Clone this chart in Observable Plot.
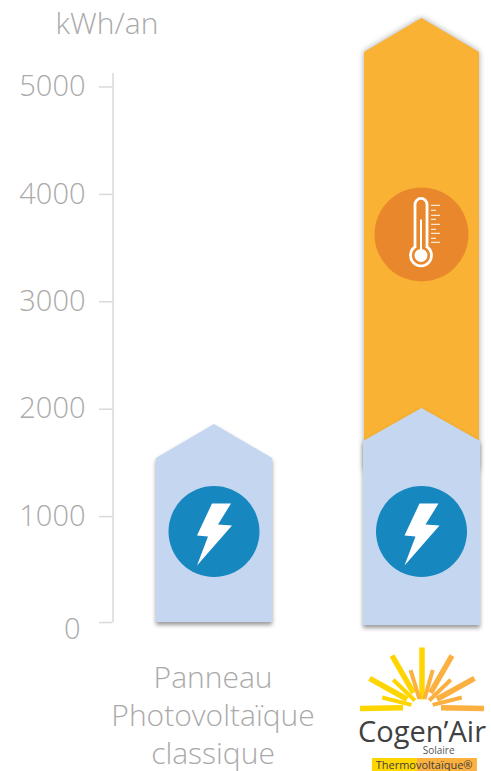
<!DOCTYPE html>
<html><head><meta charset="utf-8">
<script src="https://cdn.jsdelivr.net/npm/d3@7"></script>
<script src="https://cdn.jsdelivr.net/npm/@observablehq/plot@0.6"></script>
<style>
html,body{margin:0;padding:0;background:#fff}
svg{display:block}
.orange-house{filter:drop-shadow(0 0 3px rgba(0,0,0,.35))}
.blue-house{filter:drop-shadow(0 3px 2px rgba(0,0,0,.4))}
</style></head><body>
<script>
const categories = ["Panneau\nPhotovoltaïque\nclassique", "Cogen’Air"];
const unitLabel = "kWh/an";
const yTicks = [1000, 2000, 3000, 4000, 5000];

// [category index, base, shoulder, peak, half width]
const thermalHouse = [1, 1415, 5307, 5624, 0.277];
const electricPanel = [0, 0, 1527, 1844, 0.28];
const electricCogen = [1, -28, 1685, 1993, 0.282];

const houseColorThermal = "#f9b233";
const houseColorElectric = "#c5d7f0";
const iconBlue = "#1787c0";
const iconOrange = "#e8872b";
const grey = "#aaaaaa";

const electricIconY = 847;
const thermalIconY = 3613;

// logo rays: angle, inner, outer, colour
const rayAngles = [0, -30, 30, -61, 61, -91, 91, -17, 16, -46, 46, -76, 76];
const rayInner = [8, 17, 17, 17, 17, 19, 19, 9, 9, 10, 10, 11, 11];
const rayOuter = [60, 60, 60, 60, 60, 62, 62, 39, 39, 40, 40, 41, 41];
const rayColors = ["#ffd500", "#ffd500", "#fbb040", "#ffd500", "#fbb040", "#ffd500", "#fbb040", "#fbb040", "#fbb040", "#ffd500", "#fbb040", "#ffd500", "#fbb040"];
const rayWidths = [5.5, 5.5, 5.5, 5.5, 5.5, 5.5, 5.5, 4, 4, 4, 4, 4, 4];

const house = ([c, base, shoulder, peak, hw]) => [
  {x: c - hw, y1: base, y2: shoulder},
  {x: c, y1: base, y2: peak},
  {x: c + hw, y1: base, y2: shoulder}
];

const bolt = {draw(ctx) {
  ctx.moveTo(17, -28); ctx.lineTo(-2, -28); ctx.lineTo(-17, 4); ctx.lineTo(-6, 5);
  ctx.lineTo(-17, 34); ctx.lineTo(18, -6); ctx.lineTo(4, -7); ctx.closePath();
}};
const thermoOutline = {draw(ctx) {
  ctx.moveTo(-7, 12); ctx.lineTo(-7, -30);
  ctx.arc(-1, -30, 6, Math.PI, 0);
  ctx.lineTo(5, 12);
  ctx.arc(-1, 21, 10.5, -Math.PI / 2 + 0.6, -Math.PI / 2 - 0.6);
  ctx.closePath();
}};
const thermoFill = {draw(ctx) {
  ctx.moveTo(-2, -15); ctx.lineTo(0, -15); ctx.lineTo(0, 21); ctx.lineTo(-2, 21); ctx.closePath();
  ctx.moveTo(5.5, 21); ctx.arc(-1, 21, 6.5, 0, 2 * Math.PI);
}};
const thermoTicks = {draw(ctx) {
  [[-29, 18], [-24, 14], [-19, 18], [-15, 14], [-10, 18], [-5, 14], [-1, 18], [4, 14], [8, 18]].forEach(([y, x2]) => {
    ctx.moveTo(9, y); ctx.lineTo(x2, y);
  });
}};

const rays = rayAngles.map((angle, i) => ({angle, inner: rayInner[i], outer: rayOuter[i], color: rayColors[i], w: rayWidths[i]}));
const rayMarks = rays.map(r => Plot.vector([r], {
  x: () => 1.0, y: () => -791, rotate: r.angle, length: r.outer, anchor: "start",
  stroke: r.color, strokeWidth: r.w, strokeLinecap: "butt",
  shape: {draw(ctx, l) { ctx.moveTo(0, -r.inner); ctx.lineTo(0, -l); }}
}));

const font = "'Open Sans', sans-serif";
const chart = Plot.plot({
  width: 491, height: 771,
  marginTop: 0, marginRight: 0, marginBottom: 0, marginLeft: 0,
  style: {background: "#fff"},
  x: {domain: [-1.0313, 1.3349], range: [0, 491], axis: null},
  y: {domain: [5791, -1387], range: [0, 771], axis: null},
  marks: [
    Plot.ruleX([-0.489], {y1: 0, y2: 5112, stroke: "#d9d9d9", strokeWidth: 1.5}),
    Plot.axisY(yTicks, {anchor: "left", x: -0.489, tickSize: 13.5, tickPadding: 14, stroke: "#d9d9d9", strokeWidth: 1.5, fontSize: 29, fontWeight: 300, fontFamily: font, fill: grey, color: grey, label: null, tickFormat: "d", dy: 1.5}),
    Plot.ruleY([0], {x1: -0.554, x2: -0.489, stroke: "#d9d9d9", strokeWidth: 1.5}),
    Plot.text([0], {x: -0.489, y: 0, text: d => String(d), dy: 7, dx: -32.5, textAnchor: "end", fontSize: 29, fontWeight: 300, fontFamily: font, fill: grey}),
    Plot.text([unitLabel], {x: -0.766, y: 5568, text: d => d, fontSize: 30, fontWeight: 300, fontFamily: font, fill: grey, textAnchor: "start"}),

    Plot.areaY(house(thermalHouse), {x: "x", y1: "y1", y2: "y2", fill: houseColorThermal, className: "orange-house"}),
    Plot.areaY(house(electricPanel), {x: "x", y1: "y1", y2: "y2", fill: houseColorElectric, className: "blue-house"}),
    Plot.areaY(house(electricCogen), {x: "x", y1: "y1", y2: "y2", fill: houseColorElectric, className: "blue-house"}),

    Plot.dot([0, 1], {x: d => d, y: () => electricIconY, r: 45.5, fill: iconBlue, dx: -0.5}),
    Plot.dot([0, 1], {x: d => d, y: () => electricIconY, r: 30, fill: "#fff", symbol: bolt, dx: -0.5}),
    Plot.dot([1], {x: d => d, y: () => thermalIconY, r: 47, fill: iconOrange, dx: -0.5}),
    Plot.dot([1], {x: d => d, y: () => thermalIconY, r: 30, stroke: "#fff", strokeWidth: 2.8, fill: "none", symbol: thermoOutline}),
    Plot.dot([1], {x: d => d, y: () => thermalIconY, r: 30, fill: "#fff", symbol: thermoFill}),
    Plot.dot([1], {x: d => d, y: () => thermalIconY, r: 30, stroke: "#fff", strokeOpacity: 0.8, strokeWidth: 1.3, fill: "none", symbol: thermoTicks}),

    Plot.text([categories[0]], {x: () => -0.007, y: () => -850, text: d => d, fontSize: 30, lineHeight: 1.27, fontWeight: 300, fontFamily: font, fill: grey}),

    ...rayMarks,
    Plot.rect([[0.761, 0.978, "#ffd500"], [0.978, 1.267, "#fbb040"]], {x1: d => d[0], x2: d => d[1], y1: () => -1266, y2: () => -1387, fill: d => d[2]}),
    Plot.text([categories[1]], {x: () => 1.0, y: () => -1025, text: d => d, fontSize: 29, fontWeight: 500, fontFamily: font, fill: "#404040", letterSpacing: "-2.8px"}),
    Plot.text(["Solaire"], {x: () => 1.08, y: () => -1198, text: d => d, fontSize: 10, fontFamily: font, fill: "#555"}),
    Plot.text(["Thermovoltaïque®"], {x: () => 1.01, y: () => -1330, text: d => d, fontSize: 11, fontFamily: font, fill: "#404040"})
  ]
});
document.body.append(chart);
</script>
</body></html>
